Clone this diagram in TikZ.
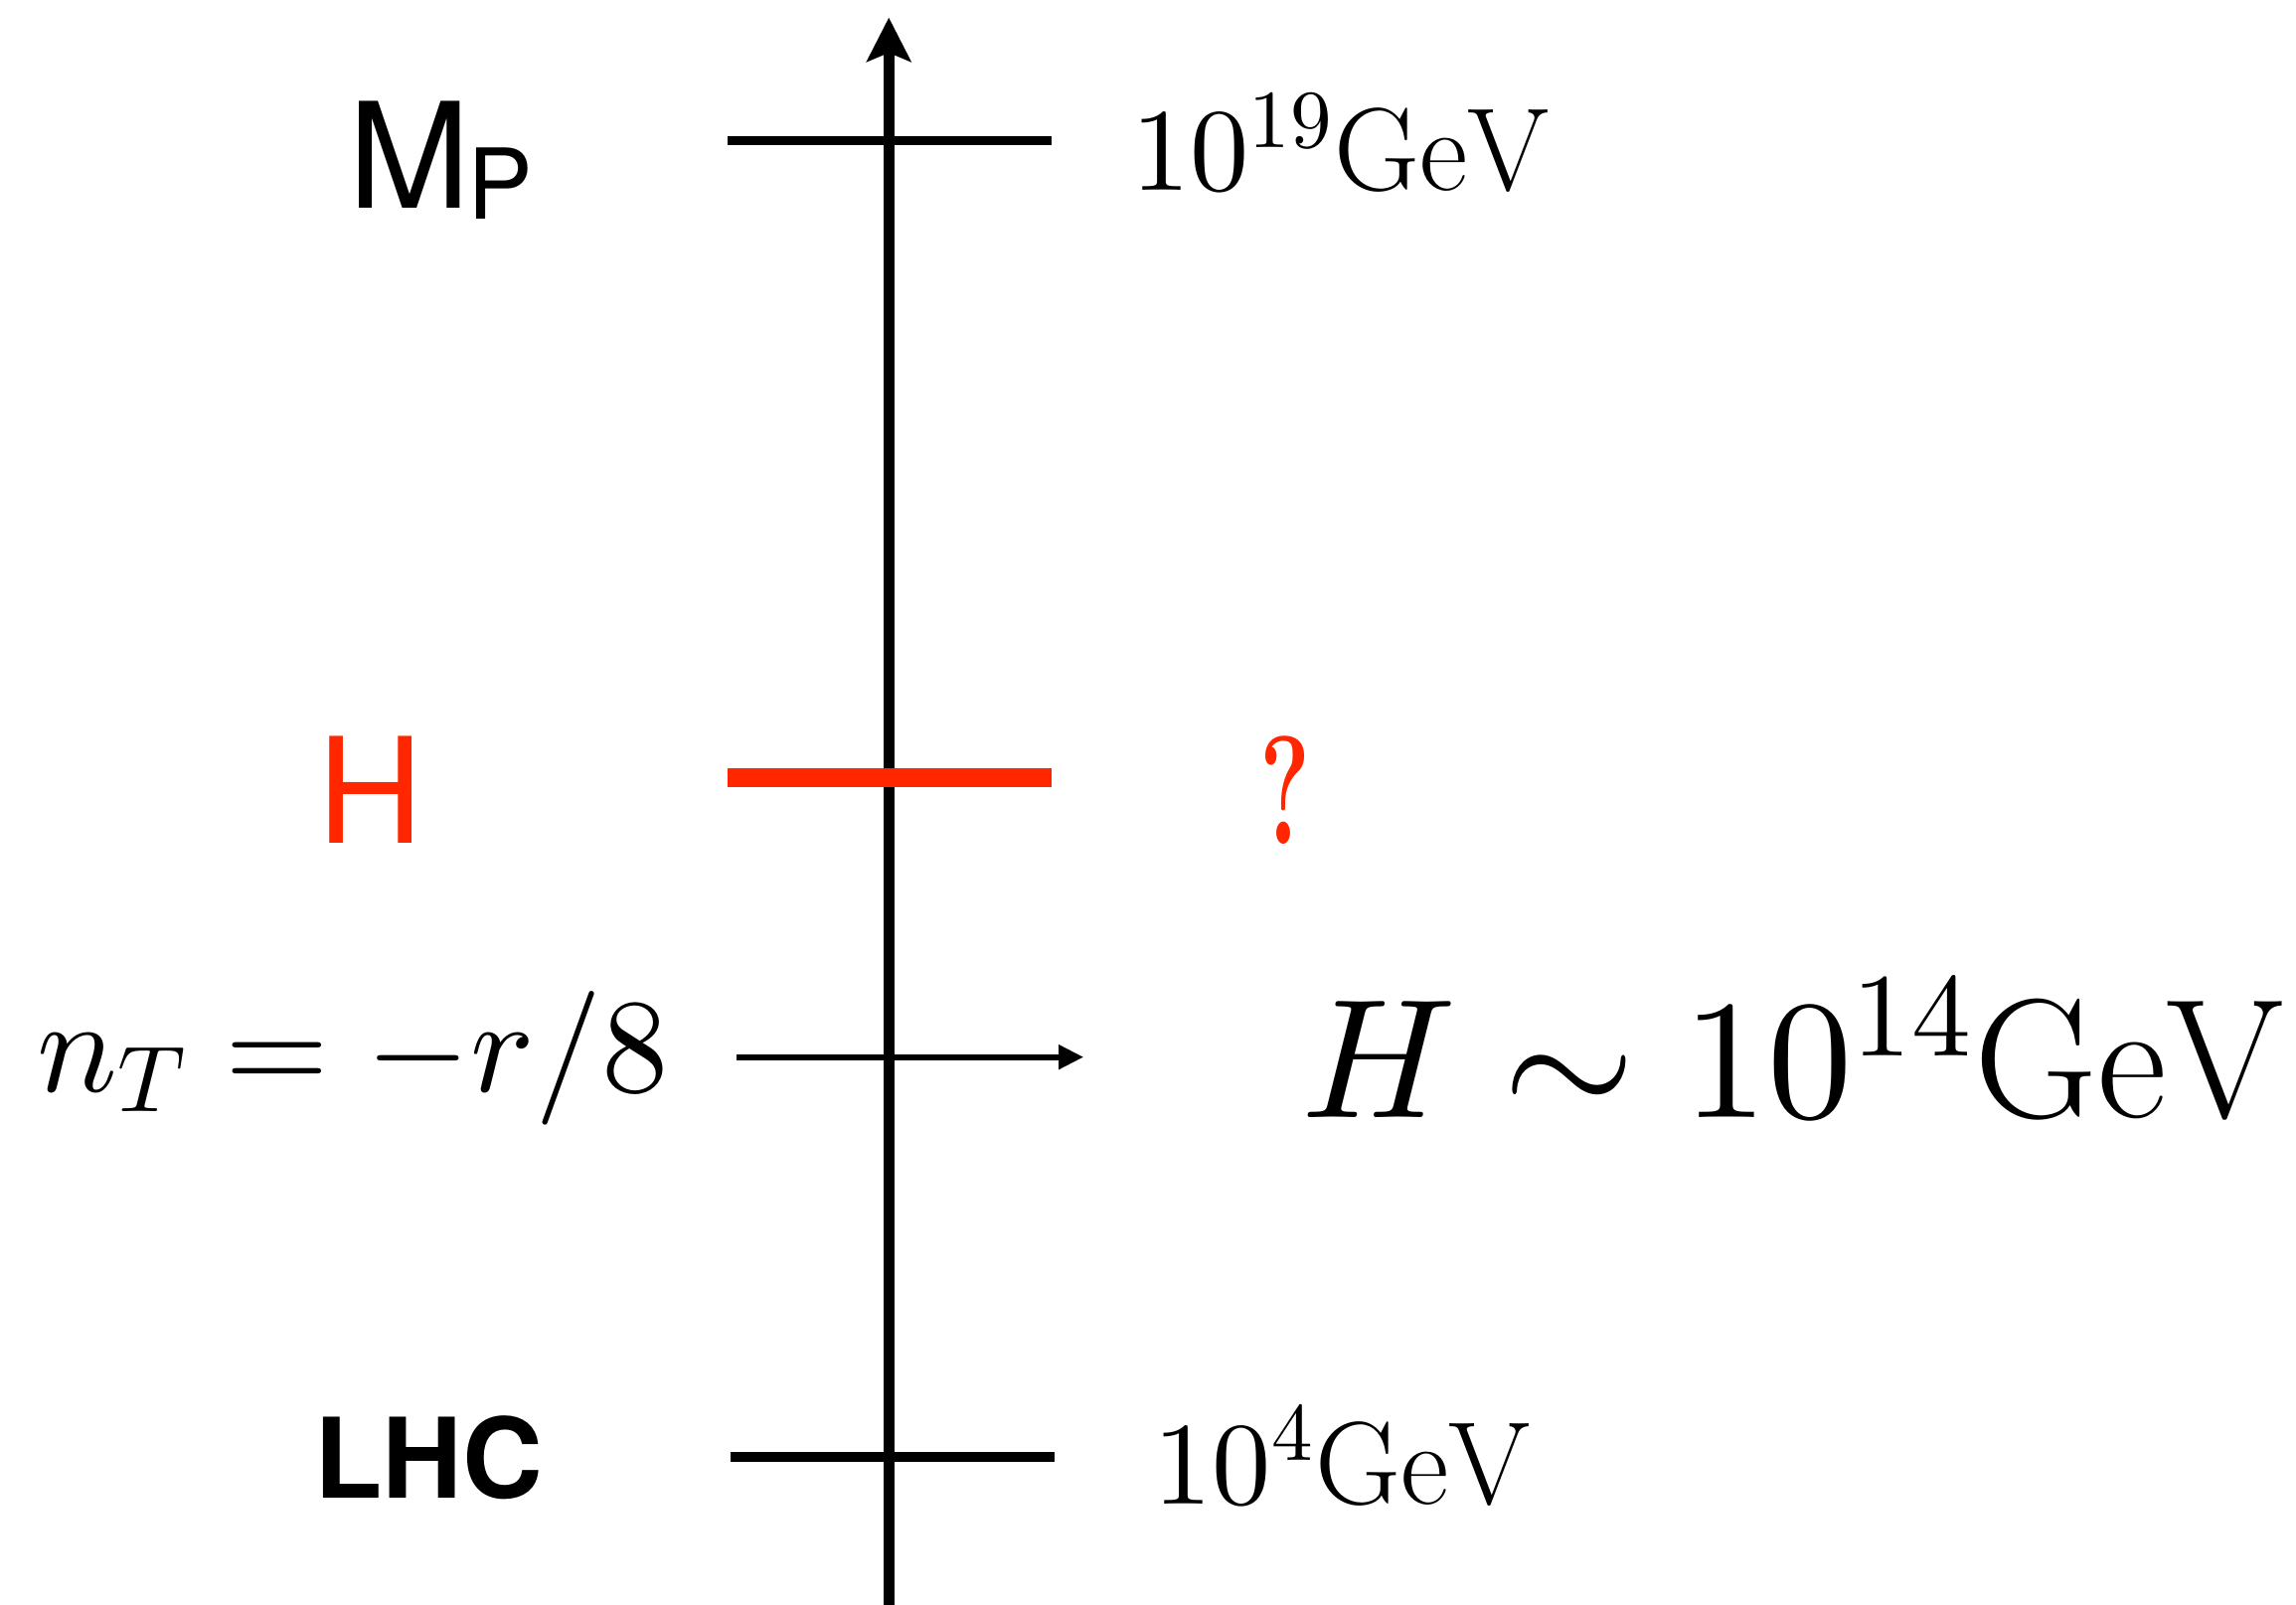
\RequirePackage{fix-cm}
\documentclass[tikz,border=0pt]{standalone}
\usepackage{fontspec}
\usepackage{graphicx}
\setsansfont{TeX Gyre Heros}
\usetikzlibrary{arrows.meta}
% scaled 10pt design sizes for the math labels
\DeclareFontFamily{OT1}{cmr}{\hyphenchar\font45}
\DeclareFontShape{OT1}{cmr}{m}{n}{<->cmr10}{}
\DeclareFontFamily{OML}{cmm}{\skewchar\font127}
\DeclareFontShape{OML}{cmm}{m}{it}{<->cmmi10}{}
\DeclareFontFamily{OMS}{cmsy}{\skewchar\font48}
\DeclareFontShape{OMS}{cmsy}{m}{n}{<->cmsy10}{}
\definecolor{scalered}{RGB}{255,38,0}
\tikzset{
  scaletick/.style={line width=1.9pt},
  lbl/.style={inner sep=0pt,anchor=base west}
}
\begin{document}
\begin{tikzpicture}[scale=1.0]
  \useasboundingbox (0,0) rectangle (15.68,10.96);

  % Energy axis
  \coordinate (bot) at (6.07,0);
  \coordinate (top) at (6.07,10.84);
  \draw[line width=2.1pt,-{Stealth[length=3mm,width=3mm,inset=0.6mm]}] (bot) -- (top);

  % Planck scale
  \coordinate (mpL) at (4.97,10.00);
  \coordinate (mpR) at (7.18,10.00);
  \draw[scaletick] (mpL) -- (mpR);
  \node[lbl] (mp) at (2.37,9.54)
    {\fontsize{28.5}{30}\selectfont\sffamily M\hspace{-0.02cm}\raisebox{-0.08cm}{\fontsize{19}{20}\selectfont P}};
  \node[lbl] (mpval) at (7.72,9.66)
    {\fontsize{22.9}{26}\selectfont $10^{19}\mathrm{GeV}$};

  % Hubble scale
  \coordinate (hL) at (4.97,5.65);
  \coordinate (hR) at (7.18,5.65);
  \draw[scaletick,line width=3.6pt,scalered] (hL) -- (hR);
  \node[lbl,scalered] (h) at (2.16,5.20)
    {\fontsize{28.5}{30}\selectfont\sffamily H};
  \node[scalered,inner sep=0pt] (hval) at (8.78,5.56)
    {\scalebox{0.62}[1]{\fontsize{30}{32}\selectfont\bfseries ?}};

  % Tensor tilt
  \coordinate (tiltL) at (5.03,3.74);
  \coordinate (tiltR) at (7.40,3.74);
  \draw[line width=1.1pt,-{Triangle[length=1.7mm,width=1.6mm]}] (tiltL) -- (tiltR);
  \node[lbl] (tilt) at (0.25,3.505)
    {\fontsize{26}{30}\selectfont $n_T=-r/8$};
  \node[lbl] (hest) at (8.88,3.325)
    {\fontsize{33}{36}\selectfont $H\sim10^{14}\mathrm{GeV}$};

  % Collider scale
  \coordinate (lhcL) at (4.99,1.01);
  \coordinate (lhcR) at (7.20,1.01);
  \draw[scaletick] (lhcL) -- (lhcR);
  \node[lbl] (lhc) at (2.14,0.73)
    {\fontsize{21.6}{24}\selectfont\sffamily\bfseries LHC};
  \node[lbl] (lhcval) at (7.87,0.69)
    {\fontsize{22.9}{26}\selectfont $10^{4}\mathrm{GeV}$};
\end{tikzpicture}
\end{document}
